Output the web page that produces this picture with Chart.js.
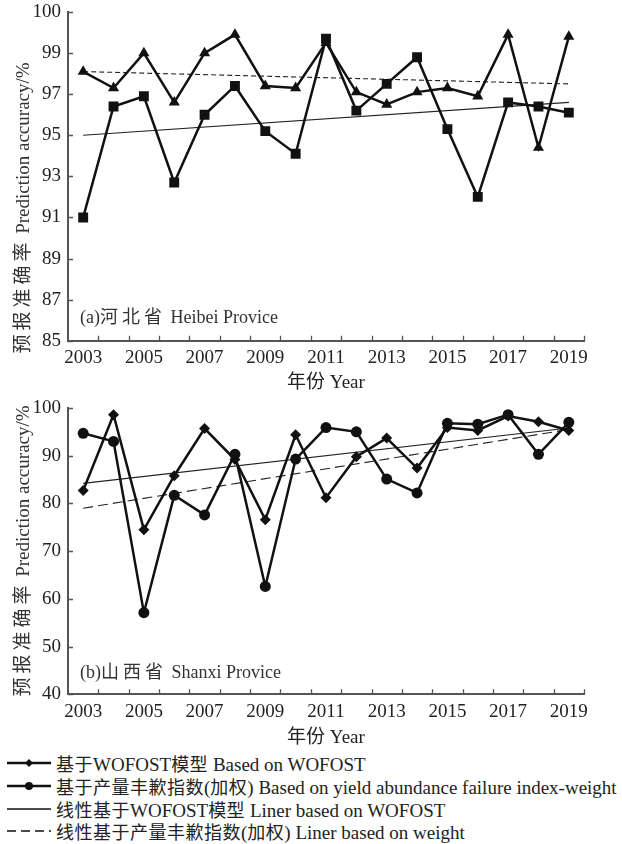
<!DOCTYPE html>
<html>
<head>
<meta charset="utf-8">
<script src="https://cdn.jsdelivr.net/npm/chart.js@4/dist/chart.umd.min.js"></script>
<style>
  html, body { margin: 0; padding: 0; background: #fff; }
  body { width: 622px; height: 844px; overflow: hidden; position: relative;
         font-family: "Liberation Serif", "Noto Sans CJK SC", serif; color: #1a1a1a; }
  .wrap { position: absolute; left: 0; width: 622px; }
  #w1 { top: 0; height: 395px; }
  #w2 { top: 395px; height: 355px; }
  .ytitle { position: absolute; white-space: nowrap; font-size: 19px; color: #333;
            transform: translate(-50%, -50%) rotate(-90deg); }
  .cjk { letter-spacing: 4px; }
  .note { position: absolute; white-space: nowrap; font-size: 18px; color: #333; }
  .legend { position: absolute; left: 0; top: 750px; width: 622px; }
  .row { position: absolute; left: 0; height: 22px; display: flex; align-items: center; white-space: nowrap;
         font-size: 19px; color: #222; }
  .row .lc { letter-spacing: 0.5px; font-size: 18px; }
  .row svg { display: block; margin-left: 7px; margin-right: 5px; }
</style>
</head>
<body>
<div class="wrap" id="w1"><canvas id="c1" width="622" height="395"></canvas></div>
<div class="wrap" id="w2"><canvas id="c2" width="622" height="355"></canvas></div>

<div class="ytitle" style="left:20px; top:208px;"><span class="cjk">预报准确率</span> Prediction accuracy/%</div>
<div class="ytitle" style="left:20px; top:551px;"><span class="cjk">预报准确率</span> Prediction accuracy/%</div>
<div class="note" style="left:80px; top:302px;">(a)<span class="cjk">河北省</span> Heibei Provice</div>
<div class="note" style="left:80px; top:657px;">(b)<span class="cjk">山西省</span> Shanxi Provice</div>

<div class="legend">
  <div class="row" style="top:2px;">
    <svg width="44" height="12"><line x1="0" y1="6" x2="44" y2="6" stroke="#111" stroke-width="2.5"/><polygon points="22,2 26,6 22,10 18,6" fill="#111"/></svg>
    <span><span class="lc">基于</span>WOFOST<span class="lc">模型</span> Based on WOFOST</span>
  </div>
  <div class="row" style="top:25px;">
    <svg width="44" height="12"><line x1="0" y1="6" x2="44" y2="6" stroke="#111" stroke-width="2.5"/><circle cx="22" cy="6" r="4" fill="#111"/></svg>
    <span><span class="lc">基于产量丰歉指数</span>(<span class="lc">加权</span>) Based on yield abundance failure index-weight</span>
  </div>
  <div class="row" style="top:48px;">
    <svg width="44" height="12"><line x1="0" y1="6" x2="44" y2="6" stroke="#111" stroke-width="1.3"/></svg>
    <span><span class="lc">线性基于</span>WOFOST<span class="lc">模型</span> Liner based on WOFOST</span>
  </div>
  <div class="row" style="top:70px;">
    <svg width="44" height="12"><line x1="0" y1="6" x2="44" y2="6" stroke="#111" stroke-width="1.3" stroke-dasharray="9,5"/></svg>
    <span><span class="lc">线性基于产量丰歉指数</span>(<span class="lc">加权</span>) Liner based on weight</span>
  </div>
</div>

<script>
// ---------- data ----------
const years = ['2003','2004','2005','2006','2007','2008','2009','2010','2011',
               '2012','2013','2014','2015','2016','2017','2018','2019'];

// (a) Hebei
const hebeiWofost = [91.0, 96.4, 96.9, 92.7, 96.0, 97.4, 95.2, 94.1, 99.7,
                     96.2, 97.5, 98.8, 95.3, 92.0, 96.6, 96.4, 96.1];
const hebeiWeight = [98.1, 97.3, 99.0, 96.6, 99.0, 99.9, 97.4, 97.3, 99.5,
                     97.1, 96.5, 97.1, 97.3, 96.9, 99.9, 94.4, 99.8];
const hebeiTrendWofost = [95.0, 96.6];   // values at 2003 and 2019
const hebeiTrendWeight = [98.1, 97.5];
const hebeiTickLabels = ['85','87','89','91','93','95','97','99','100'];

// (b) Shanxi
const shanxiWofost = [82.7, 98.6, 74.5, 85.8, 95.7, 89.2, 76.6, 94.4, 81.2,
                      89.8, 93.7, 87.4, 95.9, 95.3, 98.3, 97.1, 95.3];
const shanxiWeight = [94.7, 93.0, 57.1, 81.7, 77.6, 90.3, 62.6, 89.3, 95.9,
                      95.0, 85.1, 82.2, 96.8, 96.6, 98.6, 90.3, 97.0];
const shanxiTrendWofost = [84.2, 95.8];
const shanxiTrendWeight = [79.0, 95.5];
const shanxiTickLabels = ['40','50','60','70','80','90','100'];

const xTitle = '年份 Year';

// ---------- styling ----------
const FONT = '"Liberation Serif", "Noto Sans CJK SC", serif';
const AXIS = '#555';
const INK = '#111';

const inwardTicks = {
  id: 'inwardTicks',
  afterDatasetsDraw(chart) {
    const ctx = chart.ctx, xs = chart.scales.x, ys = chart.scales.y, a = chart.chartArea;
    ctx.save();
    ctx.strokeStyle = AXIS;
    ctx.lineWidth = 1.3;
    ctx.beginPath();
    const n = chart.data.labels.length;
    for (let i = 0; i < n; i++) {
      const px = Math.round((xs.getPixelForValue(i) + xs.getPixelForValue(i + 1)) / 2) + 0.5;
      ctx.moveTo(px, a.bottom);
      ctx.lineTo(px, a.bottom - 5);
    }
    ys.ticks.forEach(t => {
      const py = Math.round(ys.getPixelForValue(t.value)) + 0.5;
      ctx.moveTo(a.left, py);
      ctx.lineTo(a.left + 5, py);
    });
    ctx.stroke();
    ctx.restore();
  }
};

function series(data, style, radius) {
  return { data, borderColor: INK, backgroundColor: INK, borderWidth: 2.5,
           pointStyle: style, pointRadius: radius, pointHoverRadius: radius,
           pointBorderWidth: 0, tension: 0, fill: false };
}
function trend(vals, dash) {
  return { data: [{x: years[0], y: vals[0]}, {x: years[years.length - 1], y: vals[1]}],
           borderColor: '#222', borderWidth: 1.1, borderDash: dash, pointRadius: 0,
           tension: 0, fill: false };
}

function makeChart(id, datasets, yMin, yMax, step, tickLabels, padTop, xHeight) {
  return new Chart(document.getElementById(id), {
    type: 'line',
    data: { labels: years, datasets },
    options: {
      responsive: false, animation: false, devicePixelRatio: 1,
      layout: { padding: { left: 0, right: 38, top: padTop, bottom: 0 } },
      plugins: { legend: { display: false }, tooltip: { enabled: false } },
      scales: {
        x: {
          type: 'category', offset: true,
          grid: { display: false, offset: true, drawTicks: false },
          border: { display: true, color: AXIS, width: 2 },
          ticks: { autoSkip: false, maxRotation: 0, padding: 6, color: '#222',
                   font: { family: FONT, size: 19 },
                   callback: (v, i) => (i % 2 === 0 ? years[i] : '') },
          title: { display: true, text: xTitle, color: '#222',
                   font: { family: FONT, size: 19 }, padding: { top: 0, bottom: 1 } },
          afterFit: s => { s.height = xHeight; s.paddingLeft = 0; s.paddingRight = 0; }
        },
        y: {
          min: yMin, max: yMax,
          grid: { display: false, drawTicks: false },
          border: { display: true, color: AXIS, width: 2 },
          ticks: { stepSize: step, padding: 7, color: '#222',
                   font: { family: FONT, size: 19 },
                   callback: (v, i) => tickLabels[i] },
          afterFit: s => { s.width = 68; s.paddingTop = 0; s.paddingBottom = 0; }
        }
      }
    },
    plugins: [inwardTicks]
  });
}

makeChart('c1', [
  series(hebeiWofost, 'rect', 7),
  series(hebeiWeight, 'triangle', 6.4),
  trend(hebeiTrendWofost, []),
  trend(hebeiTrendWeight, [5, 3])
], 85, 101, 2, hebeiTickLabels, 12, 54.3);

makeChart('c2', [
  series(shanxiWofost, 'rectRot', 5.5),
  series(shanxiWeight, 'circle', 5.5),
  trend(shanxiTrendWofost, []),
  trend(shanxiTrendWeight, [10, 5])
], 40, 100, 10, shanxiTickLabels, 13, 55.7);
</script>
</body>
</html>
